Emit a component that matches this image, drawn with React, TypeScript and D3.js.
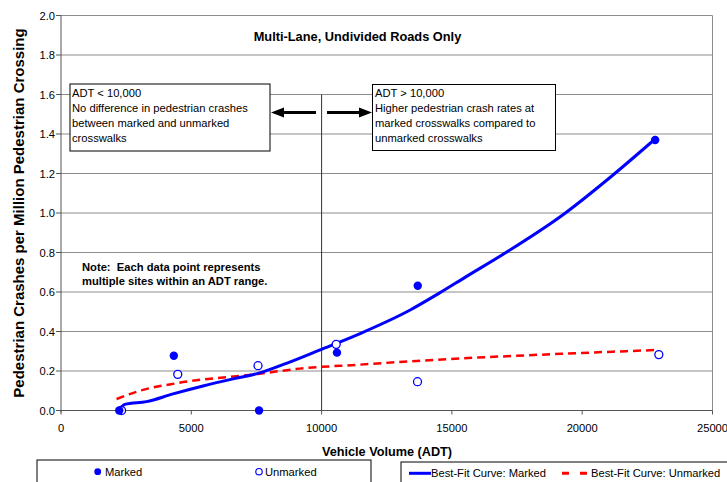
import React from "react";
import * as d3 from "d3";

const markedX = [2235, 4330, 7600, 10590, 13690, 22800];
const markedY = [0.0, 0.277, 0.0, 0.293, 0.632, 1.37];
const unmarkedX = [2325, 4480, 7560, 10560, 13680, 22940];
const unmarkedY = [0.0, 0.183, 0.227, 0.335, 0.146, 0.283];

const fitMarkedX = [2235, 2450, 3280, 4300, 5450, 6600, 7560, 8650, 9920, 11500, 13400, 14500, 15550, 17075, 19250, 21160, 22800];
const fitMarkedY = [0.006, 0.031, 0.045, 0.084, 0.124, 0.160, 0.188, 0.239, 0.306, 0.391, 0.509, 0.593, 0.678, 0.80, 0.99, 1.19, 1.375];
const fitUnmarkedX = [2133, 3000, 4433, 7560, 9157, 11456, 13628, 19375, 22759];
const fitUnmarkedY = [0.058, 0.099, 0.138, 0.185, 0.212, 0.232, 0.251, 0.288, 0.306];

const xTicks = [0, 5000, 10000, 15000, 20000, 25000];
const yTicks = [0, 0.2, 0.4, 0.6, 0.8, 1.0, 1.2, 1.4, 1.6, 1.8, 2.0];

const box1Lines = ["ADT < 10,000", "No difference in pedestrian crashes", "between marked and unmarked", "crosswalks"];
const box2Lines = ["ADT > 10,000", "Higher pedestrian crash rates at", "marked crosswalks compared to", "unmarked crosswalks"];
const noteLines = ["Note:  Each data point represents", "multiple sites within an ADT range."];

const FONT = "'Liberation Sans', Arial, sans-serif";
const BLUE = "#0000ff";
const RED = "#ff0000";
const FS = 11.2;

export default function App() {
  const x = d3.scaleLinear().domain([0, 25000]).range([61, 712.5]);
  const y = d3.scaleLinear().domain([0, 2]).range([410.5, 15.5]);

  const line = d3
    .line<[number, number]>()
    .x((d) => x(d[0]))
    .y((d) => y(d[1]))
    .curve(d3.curveMonotoneX);

  const mFit = line(fitMarkedX.map((v, i) => [v, fitMarkedY[i]] as [number, number])) || "";
  const uFit = line(fitUnmarkedX.map((v, i) => [v, fitUnmarkedY[i]] as [number, number])) || "";

  return (
    <svg
      width={727}
      height={482}
      style={{ position: "absolute", left: 0, top: 0, background: "#fff" }}
      fontFamily={FONT}
    >
      <rect x={0} y={0} width={727} height={482} fill="#fff" />
      {/* gridlines */}
      {yTicks.map((t) => (
        <line key={"g" + t} x1={x(0)} x2={x(25000)} y1={y(t)} y2={y(t)} stroke="#8c8c8c" strokeWidth={1} />
      ))}
      {/* right border */}
      <line x1={x(25000)} x2={x(25000)} y1={y(2)} y2={y(0)} stroke="#8c8c8c" strokeWidth={1} />
      {/* vertical divider at 10000 */}
      <line x1={x(10000)} x2={x(10000)} y1={y(1.6)} y2={y(0)} stroke="#333" strokeWidth={1} />
      {/* axes */}
      <line x1={x(0)} x2={x(0)} y1={y(2)} y2={y(0) + 2} stroke="#555" strokeWidth={1} />
      <line x1={x(0)} x2={x(25000)} y1={y(0)} y2={y(0)} stroke="#555" strokeWidth={1.2} />
      {yTicks.map((t) => (
        <g key={"yt" + t}>
          <line x1={x(0) - 5} x2={x(0)} y1={y(t)} y2={y(t)} stroke="#555" />
          <text x={55} y={y(t) + 4} textAnchor="end" fontSize={FS} fill="#000">
            {t.toFixed(1)}
          </text>
        </g>
      ))}
      {xTicks.map((t) => (
        <g key={"xt" + t}>
          <line x1={x(t)} x2={x(t)} y1={y(0)} y2={y(0) + 4} stroke="#555" />
          <text x={x(t)} y={432} textAnchor="middle" fontSize={FS} fill="#000">
            {t}
          </text>
        </g>
      ))}

      {/* axis titles */}
      <text x={387} y={455.5} textAnchor="middle" fontSize={12.7} fontWeight="bold">
        Vehicle Volume (ADT)
      </text>
      <text
        transform={`translate(23.5,213) rotate(-90)`}
        textAnchor="middle"
        fontSize={15}
        fontWeight="bold"
      >
        Pedestrian Crashes per Million Pedestrian Crossing
      </text>

      {/* title */}
      <text x={357.5} y={41} textAnchor="middle" fontSize={12.8} fontWeight="bold">
        Multi-Lane, Undivided Roads Only
      </text>

      {/* annotation boxes */}
      <rect x={70} y={84} width={200} height={67} fill="#fff" stroke="#000" strokeWidth={1} />
      {box1Lines.map((s, i) => (
        <text key={"b1" + i} x={72} y={96.5 + i * 15.3} fontSize={FS}>
          {s}
        </text>
      ))}
      <rect x={372.5} y={84.5} width={183} height={66} fill="#fff" stroke="#000" strokeWidth={1} />
      {box2Lines.map((s, i) => (
        <text key={"b2" + i} x={375} y={96.5 + i * 15.1} fontSize={FS}>
          {s}
        </text>
      ))}

      {/* arrows */}
      <line x1={316} x2={282} y1={112.5} y2={112.5} stroke="#000" strokeWidth={3} />
      <path d="M271,112.5 L284,107.5 L284,117.5 Z" fill="#000" />
      <line x1={327} x2={361} y1={112.5} y2={112.5} stroke="#000" strokeWidth={3} />
      <path d="M372,112.5 L359,107.5 L359,117.5 Z" fill="#000" />

      {/* note */}
      {noteLines.map((s, i) => (
        <text
          key={"n" + i}
          x={82}
          y={270.5 + i * 14.5}
          fontSize={FS}
          fontWeight="bold"
          style={{ whiteSpace: "pre" }}
        >
          {s}
        </text>
      ))}

      {/* fit curves */}
      <path d={uFit} fill="none" stroke={RED} strokeWidth={2.5} strokeDasharray="8,5" />
      <path d={mFit} fill="none" stroke={BLUE} strokeWidth={3} />

      {/* points */}
      {unmarkedX.map((v, i) => (
        <circle key={"u" + i} cx={x(v)} cy={y(unmarkedY[i])} r={4} fill="#fff" stroke={BLUE} strokeWidth={1.3} />
      ))}
      {markedX.map((v, i) => (
        <circle key={"m" + i} cx={x(v)} cy={y(markedY[i])} r={4.2} fill={BLUE} />
      ))}

      {/* legends */}
      <rect x={37} y={460} width={334} height={40} fill="#fff" stroke="#000" strokeWidth={1} />
      <circle cx={97.7} cy={471.7} r={3.4} fill={BLUE} />
      <text x={105} y={475.5} fontSize={FS}>
        Marked
      </text>
      <circle cx={259} cy={471.7} r={3.2} fill="#fff" stroke={BLUE} strokeWidth={1.2} />
      <text x={265} y={475.5} fontSize={FS}>
        Unmarked
      </text>

      <rect x={401} y={462} width={340} height={40} fill="#fff" stroke="#000" strokeWidth={1} />
      <line x1={409} x2={431} y1={473.3} y2={473.3} stroke={BLUE} strokeWidth={3} />
      <text x={431} y={477} fontSize={FS}>
        Best-Fit Curve: Marked
      </text>
      <line x1={562} x2={591} y1={473.3} y2={473.3} stroke={RED} strokeWidth={3} strokeDasharray="7,11" />
      <text x={591} y={477} fontSize={FS}>
        Best-Fit Curve: Unmarked
      </text>
    </svg>
  );
}
